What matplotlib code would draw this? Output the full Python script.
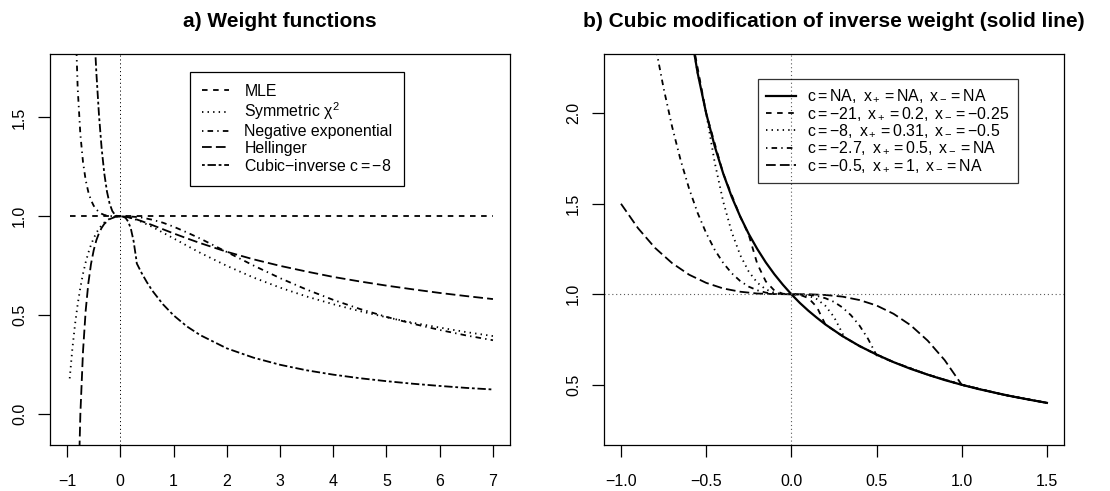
import matplotlib
matplotlib.use("Agg")
import matplotlib.pyplot as plt

plt.rcParams['font.family'] = ['Liberation Sans', 'DejaVu Sans']
plt.rcParams['mathtext.fontset'] = 'custom'
plt.rcParams['mathtext.rm'] = 'Liberation Sans'
plt.rcParams['mathtext.it'] = 'Liberation Sans'
plt.rcParams['mathtext.bf'] = 'Liberation Sans:bold'
plt.rcParams['lines.scale_dashes'] = False

# --- panel a: weight functions ---
delta_a = [-0.95, -0.9, -0.85, -0.8, -0.75, -0.7, -0.65, -0.6, -0.55, -0.5,
           -0.45, -0.4, -0.35, -0.3, -0.2, -0.1, 0.0, 0.1, 0.2, 0.3, 0.4,
           0.6, 0.8, 1.0, 1.25, 1.5, 2.0, 2.5, 3.0, 3.5, 4.0, 4.5, 5.0, 5.5,
           6.0, 6.5, 7.0]
w_schi2 = [0.181, 0.331, 0.454, 0.556, 0.640, 0.710, 0.768, 0.816, 0.856, 0.889,
           0.916, 0.938, 0.955, 0.969, 0.988, 0.997, 1.0, 0.998, 0.992, 0.983, 0.972,
           0.947, 0.918, 0.889, 0.852, 0.816, 0.750, 0.691, 0.640, 0.595, 0.556,
           0.521, 0.490, 0.462, 0.438, 0.415, 0.395]
w_ned = [5.700, 2.940, 2.063, 1.647, 1.415, 1.274, 1.183, 1.123, 1.082, 1.054,
         1.035, 1.022, 1.013, 1.007, 1.002, 1.000, 1.0, 1.000, 0.999, 0.997, 0.994,
         0.983, 0.968, 0.948, 0.919, 0.888, 0.820, 0.752, 0.688, 0.630, 0.578,
         0.532, 0.492, 0.457, 0.426, 0.398, 0.374]
w_hell = [-11.06, -3.675, -1.503, -0.528, 0.0, 0.318, 0.523, 0.662, 0.759, 0.828,
          0.879, 0.915, 0.942, 0.962, 0.986, 0.997, 1.0, 0.998, 0.992, 0.985, 0.976,
          0.956, 0.935, 0.914, 0.889, 0.865, 0.821, 0.783, 0.750, 0.721, 0.694,
          0.671, 0.650, 0.631, 0.613, 0.597, 0.582]
mle_x = [-0.95, 7.0]
mle_y = [1.0, 1.0]
cubic_x = [-0.5, -0.45, -0.4, -0.35, -0.3, -0.25, -0.2, -0.15, -0.1, -0.05, 0.0,
           0.05, 0.1, 0.15, 0.2, 0.25, 0.3, 0.31, 0.4, 0.5, 0.6, 0.8, 1.0, 1.25,
           1.5, 2.0, 2.5, 3.0, 3.5, 4.0, 4.5, 5.0, 5.5, 6.0, 6.5, 7.0]
cubic_y = [2.0, 1.729, 1.512, 1.343, 1.216, 1.125, 1.064, 1.027, 1.008, 1.001, 1.0,
           0.999, 0.992, 0.973, 0.936, 0.875, 0.784, 0.762, 0.714, 0.667, 0.625,
           0.556, 0.500, 0.444, 0.400, 0.333, 0.286, 0.250, 0.222, 0.200, 0.182,
           0.167, 0.154, 0.143, 0.133, 0.125]
labels_a = ["MLE", r"Symmetric $\chi^2$", "Negative exponential", "Hellinger",
            r"Cubic$-$inverse $c = -8$"]

# --- panel b: cubic modification of inverse weight ---
inv_x = [-0.6, -0.55, -0.5, -0.45, -0.4, -0.35, -0.3, -0.25, -0.2, -0.15, -0.1,
         -0.05, 0.0, 0.05, 0.1, 0.15, 0.2, 0.3, 0.4, 0.5, 0.6, 0.7, 0.8, 0.9,
         1.0, 1.1, 1.2, 1.3, 1.4, 1.5]
inv_y = [2.5, 2.222, 2.0, 1.818, 1.667, 1.538, 1.429, 1.333, 1.25, 1.176, 1.111,
         1.053, 1.0, 0.952, 0.909, 0.870, 0.833, 0.769, 0.714, 0.667, 0.625, 0.588,
         0.556, 0.526, 0.5, 0.476, 0.455, 0.435, 0.417, 0.4]
c21_x = [-0.6, -0.5, -0.4, -0.3, -0.25, -0.2, -0.15, -0.1, -0.05, 0.0, 0.05, 0.1,
         0.15, 0.2, 0.3, 0.4, 0.5, 0.6, 0.8, 1.0, 1.25, 1.5]
c21_y = [2.5, 2.0, 1.667, 1.429, 1.328, 1.168, 1.071, 1.021, 1.003, 1.0, 0.997,
         0.979, 0.929, 0.832, 0.769, 0.714, 0.667, 0.625, 0.556, 0.5, 0.444, 0.4]
c8_x = [-0.6, -0.55, -0.5, -0.45, -0.4, -0.35, -0.3, -0.25, -0.2, -0.15, -0.1,
        -0.05, 0.0, 0.05, 0.1, 0.15, 0.2, 0.25, 0.3, 0.31, 0.4, 0.5, 0.6, 0.8,
        1.0, 1.25, 1.5]
c8_y = [2.5, 2.222, 2.0, 1.729, 1.512, 1.343, 1.216, 1.125, 1.064, 1.027, 1.008,
        1.001, 1.0, 0.999, 0.992, 0.973, 0.936, 0.875, 0.784, 0.762, 0.714, 0.667,
        0.625, 0.556, 0.5, 0.444, 0.4]
c27_x = [-1.0, -0.95, -0.9, -0.85, -0.8, -0.75, -0.7, -0.65, -0.6, -0.55, -0.5,
         -0.45, -0.4, -0.35, -0.3, -0.25, -0.2, -0.15, -0.1, 0.0, 0.1, 0.15, 0.2,
         0.25, 0.3, 0.35, 0.4, 0.45, 0.5, 0.6, 0.8, 1.0, 1.25, 1.5]
c27_y = [3.7, 3.315, 2.968, 2.658, 2.382, 2.139, 1.926, 1.741, 1.583, 1.449, 1.338,
         1.246, 1.173, 1.116, 1.073, 1.042, 1.022, 1.009, 1.003, 1.0, 0.997, 0.991,
         0.978, 0.958, 0.927, 0.884, 0.827, 0.754, 0.663, 0.625, 0.556, 0.5, 0.444,
         0.4]
c05_x = [-1.0, -0.9, -0.8, -0.7, -0.6, -0.5, -0.4, -0.3, -0.2, -0.1, 0.0, 0.1,
         0.2, 0.3, 0.4, 0.5, 0.6, 0.7, 0.8, 0.9, 1.0, 1.25, 1.5]
c05_y = [1.5, 1.365, 1.256, 1.172, 1.108, 1.063, 1.032, 1.014, 1.004, 1.001, 1.0,
         1.000, 0.996, 0.987, 0.968, 0.938, 0.892, 0.829, 0.744, 0.636, 0.5, 0.444,
         0.4]
labels_b = [r"$c = \mathrm{NA},\ x_+ = \mathrm{NA},\ x_- = \mathrm{NA}$",
            r"$c = -21,\ x_+ = 0.2,\ x_- = -0.25$",
            r"$c = -8,\ x_+ = 0.31,\ x_- = -0.5$",
            r"$c = -2.7,\ x_+ = 0.5,\ x_- = \mathrm{NA}$",
            r"$c = -0.5,\ x_+ = 1,\ x_- = \mathrm{NA}$"]

# R line types (on/off in points)
lty2 = (4, 4)
lty3 = (1, 3)
lty4 = (1, 3, 4, 3)
lty5 = (7, 3)
lty6 = (2, 2, 6, 2)

fig = plt.figure(figsize=(11.1, 4.91), dpi=100)
ax1 = fig.add_axes([0.04505, 0.0947, 0.41441, 0.7963])
ax2 = fig.add_axes([0.5441, 0.0947, 0.41441, 0.7963])

def style(ax):
    for s in ax.spines.values():
        s.set_linewidth(0.9)
    ax.tick_params(axis='both', direction='out', length=8.5, width=0.9,
                   labelsize=11.5, top=False, right=False)
    ax.tick_params(axis='x', pad=13)
    ax.tick_params(axis='y', pad=8)
    for lab in ax.get_yticklabels():
        lab.set_rotation(90)
        lab.set_va('center')

lw = 1.3
ax1.plot(mle_x, mle_y, color='k', lw=lw, dashes=lty2, label=labels_a[0])
ax1.plot(delta_a, w_schi2, color='k', lw=lw, dashes=lty3, label=labels_a[1])
ax1.plot(delta_a, w_ned, color='k', lw=lw, dashes=lty4, label=labels_a[2])
ax1.plot(delta_a, w_hell, color='k', lw=lw, dashes=lty5, label=labels_a[3])
ax1.plot(cubic_x, cubic_y, color='k', lw=lw, dashes=lty6, label=labels_a[4])
ax1.axvline(0, color='k', lw=0.7, dashes=(0.8, 2.0))
ax1.set_xlim(-1.32, 7.32)
ax1.set_ylim(-0.153, 1.823)
ax1.set_xticks(range(-1, 8))
ax1.set_yticks([0.0, 0.5, 1.0, 1.5])
ax1.set_yticklabels(["0.0", "0.5", "1.0", "1.5"])
style(ax1)
ax1.set_title("a) Weight functions", fontsize=15, fontweight='bold', pad=19)
leg1 = ax1.legend(loc='upper left', bbox_to_anchor=(0.304, 0.9535), borderaxespad=0,
                  fontsize=11.4, handlelength=1.7, handletextpad=1.0,
                  labelspacing=0.12, borderpad=0.75, fancybox=False,
                  edgecolor='k', framealpha=1)
leg1.get_frame().set_linewidth(0.9)

ax2.plot(inv_x, inv_y, color='k', lw=1.6, label=labels_b[0])
ax2.plot(c21_x, c21_y, color='k', lw=lw, dashes=lty2, label=labels_b[1])
ax2.plot(c8_x, c8_y, color='k', lw=lw, dashes=lty3, label=labels_b[2])
ax2.plot(c27_x, c27_y, color='k', lw=lw, dashes=lty4, label=labels_b[3])
ax2.plot(c05_x, c05_y, color='k', lw=lw, dashes=lty5, label=labels_b[4])
ax2.axvline(0, color='0.35', lw=0.8, dashes=(0.8, 2.0))
ax2.axhline(1, color='0.35', lw=0.8, dashes=(0.8, 2.0))
ax2.set_xlim(-1.1, 1.6)
ax2.set_ylim(0.17, 2.33)
ax2.set_xticks([-1.0, -0.5, 0.0, 0.5, 1.0, 1.5])
ax2.set_xticklabels(["\u22121.0", "\u22120.5", "0.0", "0.5", "1.0", "1.5"])
ax2.set_yticks([0.5, 1.0, 1.5, 2.0])
ax2.set_yticklabels(["0.5", "1.0", "1.5", "2.0"])
style(ax2)
ax2.set_title("b) Cubic modification of inverse weight (solid line)", fontsize=15,
              fontweight='bold', pad=19)
leg2 = ax2.legend(loc='upper left', bbox_to_anchor=(0.334, 0.934), borderaxespad=0,
                  fontsize=11.4, handlelength=1.9, handletextpad=0.65,
                  labelspacing=0.0, borderpad=0.55, fancybox=False,
                  edgecolor='k', facecolor='none', framealpha=None)
leg2.get_frame().set_linewidth(0.9)

fig.savefig("out.png", dpi=100)
